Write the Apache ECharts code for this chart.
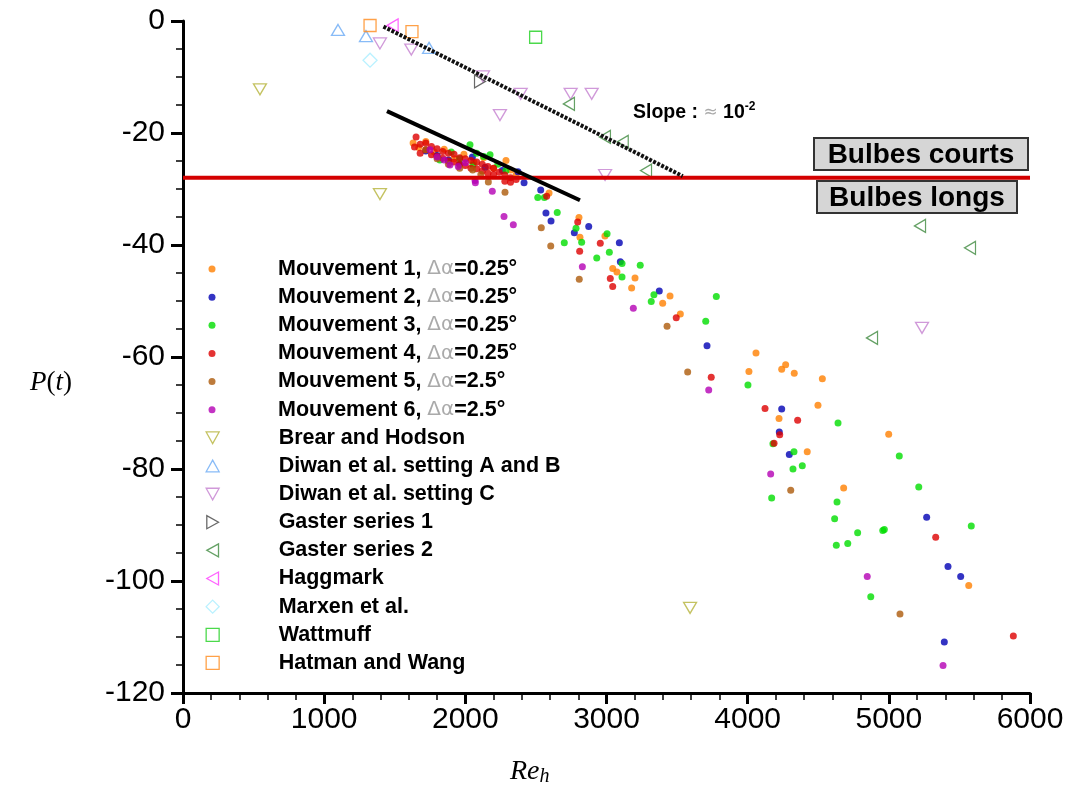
<!DOCTYPE html>
<html>
<head>
<meta charset="utf-8">
<script src="https://cdn.jsdelivr.net/npm/echarts@6/dist/echarts.min.js"></script>
<style>
html, body { margin: 0; padding: 0; background: #fff; }
#chart { width: 1069px; height: 798px; }
</style>
</head>
<body>
<div id="chart"></div>
<script>
// ---- data (Re_h, P(t)) ----
var mouv1 = [[1630,-21.8],[1670,-22.6],[1720,-21.5],[1780,-23.4],[1850,-22.9],[1920,-24.6],[1990,-23.8],[2060,-25.2],[2130,-24.4],[2200,-26.3],[2288,-24.9],[2320,-26.6],[2360,-27.4],
  [2593,-30.7],[2805,-35.1],[2812,-38.6],[2989,-38.4],[3044,-44.2],[3074,-44.8],[3202,-45.9],[3178,-47.7],[3450,-49.1],[3398,-50.4],[3523,-52.3],
  [4059,-59.3],[4009,-62.6],[4269,-61.4],[4241,-62.2],[4330,-62.9],[4529,-63.9],[4498,-68.6],[4222,-71.0],[4422,-76.9],[4999,-73.8],[4680,-83.4],[5566,-100.8]];
var mouv2 = [[1720,-23.2],[1800,-24.0],[1880,-24.8],[1960,-25.6],[2050,-24.3],[2140,-26.1],[2262,-26.7],[2373,-26.9],
  [2416,-28.9],[2534,-30.2],[2571,-34.3],[2607,-35.7],[2772,-37.8],[2874,-36.7],[3091,-39.6],[3098,-43.0],[3374,-48.2],[3712,-58.0],
  [4241,-69.3],[4224,-73.4],[4295,-77.4],[5268,-88.6],[5419,-97.4],[5509,-99.2],[5393,-110.9]];
var mouv3 = [[1820,-24.8],[1900,-23.4],[1960,-24.6],[2033,-22.1],[2080,-23.6],[2130,-24.2],[2175,-23.9],[2054,-25.7],[2230,-25.6],[2288,-26.7],
  [2513,-31.5],[2560,-31.5],[2651,-34.2],[2701,-39.6],[2784,-37.0],[2824,-39.5],[2931,-42.3],[3004,-38.0],[3020,-41.3],[3110,-43.3],[3110,-45.7],
  [3239,-43.6],[3336,-48.9],[3317,-50.1],[3778,-49.2],[3703,-53.6],[4002,-65.0],[4179,-75.5],[4328,-76.9],[4387,-79.4],[4321,-80.0],[4640,-71.8],
  [5074,-77.7],[5212,-83.2],[4170,-85.2],[4633,-85.9],[4616,-88.9],[5584,-90.2],[4779,-91.4],[4957,-91.0],[4968,-90.8],[4628,-93.6],[4709,-93.3],[4872,-102.8]];
var mouv4 = [[1651,-20.7],[1640,-22.5],[1680,-22.0],[1680,-23.6],[1720,-21.8],[1720,-23.0],[1760,-22.4],[1760,-23.9],[1800,-22.8],[1800,-24.2],
  [1840,-23.3],[1840,-24.5],[1880,-23.6],[1880,-25.0],[1920,-23.8],[1920,-25.2],[1960,-24.4],[1960,-25.6],[2000,-24.6],[2000,-25.8],
  [2040,-24.9],[2040,-26.3],[2080,-25.2],[2080,-26.4],[2120,-25.6],[2120,-26.8],[2160,-26.0],[2160,-27.2],[2200,-26.3],[2200,-27.4],
  [2240,-27.0],[2280,-27.5],[2280,-28.6],[2320,-28.0],[2320,-28.8],[2360,-28.3],
  [2576,-31.3],[2796,-35.9],[2810,-41.1],[2956,-39.7],[3027,-46.0],[3044,-47.4],[3494,-53.0],[3742,-63.6],
  [4123,-69.2],[4354,-71.3],[4227,-73.9],[4187,-75.4],[5332,-92.2],[5882,-109.8]];
var mouv5 = [[1720,-23.0],[1800,-24.6],[1880,-25.6],[1960,-26.3],[2052,-26.6],[2110,-27.4],
  [2163,-28.75],[2281,-30.6],[2538,-36.9],[2605,-40.2],[2807,-46.1],[3429,-54.5],[3575,-62.7],[4305,-83.8],[5079,-105.9]];
var mouv6 = [[1750,-23.0],[1800,-24.3],[1850,-24.8],[1891,-25.7],[1950,-26.0],[2000,-25.3],[2069,-28.5],
  [2071,-28.9],[2191,-30.4],[2274,-34.9],[2340,-36.4],[2829,-43.9],[3190,-51.3],[3724,-65.9],[4163,-80.9],[4847,-99.2],[5384,-115.1]];

var brear = [[545,-12.2],[1395,-30.9],[3592,-104.8]];
var diwanAB = [[1098,-1.6],[1296,-2.7],[1743,-4.8]];
var diwanC = [[1395,-4.0],[1617,-5.1],[2125,-9.9],[2392,-13.0],[2746,-13.0],[2895,-13.0],[2245,-16.8],[2990,-27.5],[5235,-54.8]];
var gaster1 = [[2104,-10.8]];
var gaster2 = [[2734,-14.8],[2989,-20.7],[3115,-21.6],[3280,-26.7],[5221,-36.6],[5575,-40.5],[4881,-56.6]];
var haggmark = [[1485,-0.8]];
var marxen = [[1325,-7.0]];
var wattmuff = [[2498,-2.9]];
var hatman = [[1325,-0.8],[1622,-1.9]];

var slopeLine = [[1420,-1.0],[3540,-27.7]];
var fitLine = [[1445,-16.1],[2812,-32.0]];
var boundary = [[0,-28],[6000,-28]];

var xTicks = [0, 6000, 1000];
var yTicks = [-120, 0, 20];

// legend icon shapes (the legend ignores symbolRotate)
var triUp = 'path://M5,0 L10,9 L0,9 Z';
var triDown = 'path://M0,0 L10,0 L5,9 Z';
var triLeft = 'path://M9,0 L9,10 L0,5 Z';
var triRight = 'path://M0,0 L0,10 L9,5 Z';

var dotDefs = [
  ['Mouvement 1, Δα=0.25°', mouv1, '#ff8000'],
  ['Mouvement 2, Δα=0.25°', mouv2, '#0000b4'],
  ['Mouvement 3, Δα=0.25°', mouv3, '#00dd00'],
  ['Mouvement 4, Δα=0.25°', mouv4, '#dd0000'],
  ['Mouvement 5, Δα=2.5°', mouv5, '#ad5a0a'],
  ['Mouvement 6, Δα=2.5°', mouv6, '#b400b4']
];
var openDefs = [
  ['Brear and Hodson', brear, '#b5b33a', 'triangle', 180, [13, 11], triDown],
  ['Diwan et al. setting A and B', diwanAB, '#6aaaf5', 'triangle', 0, [13, 11], triUp],
  ['Diwan et al. setting C', diwanC, '#c47fcf', 'triangle', 180, [13, 11], triDown],
  ['Gaster series 1', gaster1, '#444444', 'triangle', -90, [13, 11], triRight],
  ['Gaster series 2', gaster2, '#3f8a3f', 'triangle', 90, [13, 11], triLeft],
  ['Haggmark', haggmark, '#ff3cff', 'triangle', 90, [13, 11], triLeft],
  ['Marxen et al.', marxen, '#a8eeff', 'diamond', 0, [14, 14], 'diamond'],
  ['Wattmuff', wattmuff, '#1ed01e', 'rect', 0, [12, 12], 'rect'],
  ['Hatman and Wang', hatman, '#ff8a1a', 'rect', 0, [12, 12], 'rect']
];

var series = [];
dotDefs.forEach(function (d) {
  series.push({
    name: d[0], type: 'scatter', data: d[1], symbol: 'circle', symbolSize: 7,
    itemStyle: { color: d[2] }, z: 3
  });
});
openDefs.forEach(function (d) {
  series.push({
    name: d[0], type: 'scatter', data: d[1], symbol: d[3], symbolRotate: d[4], symbolSize: d[5],
    itemStyle: { color: 'rgba(0,0,0,0)', borderColor: d[2], borderWidth: 1.3 }, z: 3
  });
});
series.push({
  type: 'line', data: boundary, symbol: 'none', silent: true, z: 6,
  lineStyle: { color: '#d40000', width: 4 }
});
series.push({
  type: 'line', data: slopeLine, symbol: 'none', silent: true, z: 6,
  lineStyle: { color: '#111', width: 4, type: [3, 1.5] }
});
series.push({
  type: 'line', data: fitLine, symbol: 'none', silent: true, z: 6,
  lineStyle: { color: '#000', width: 4 }
});

function legendText(padLeft) {
  return {
    fontFamily: 'Liberation Sans', fontWeight: 'bold', fontSize: 21.5, color: '#000', lineHeight: 22,
    padding: [0, 0, 0, padLeft],
    rich: { g: { fontFamily: 'DejaVu Sans', fontWeight: 'normal', fontSize: 20, color: '#aaa', lineHeight: 22 } }
  };
}
function fmt(n) { return n.replace('Δα', '{g|Δα}'); }
function plainNum(v) { return String(v); }

var axisFont = { fontFamily: 'Liberation Sans', fontSize: 30, color: '#000' };

var option = {
  animation: false,
  backgroundColor: '#fff',
  grid: { left: 183, right: 39, top: 21, bottom: 105 },
  xAxis: {
    type: 'value', min: xTicks[0], max: xTicks[1], interval: xTicks[2],
    axisLine: { onZero: false, lineStyle: { color: '#000', width: 3 } },
    axisTick: { length: 11, lineStyle: { color: '#000', width: 3 } },
    minorTick: { show: true, splitNumber: 5, length: 7, lineStyle: { color: '#000', width: 1.5 } },
    splitLine: { show: false },
    axisLabel: Object.assign({ margin: 12, formatter: plainNum }, axisFont)
  },
  yAxis: {
    type: 'value', min: yTicks[0], max: yTicks[1], interval: yTicks[2],
    axisLine: { onZero: false, lineStyle: { color: '#000', width: 3 } },
    axisTick: { length: 12, lineStyle: { color: '#000', width: 3 } },
    minorTick: { show: true, splitNumber: 4, length: 7, lineStyle: { color: '#000', width: 1.5 } },
    splitLine: { show: false },
    axisLabel: Object.assign({ margin: 18, formatter: plainNum }, axisFont)
  },
  legend: [{
    data: dotDefs.map(function (d) { return { name: d[0], icon: 'circle' }; }),
    orient: 'vertical', left: 208.5, top: 258, padding: 0,
    itemWidth: 7, itemHeight: 7, itemGap: 6.14, selectedMode: false,
    itemStyle: { borderWidth: 0 },
    formatter: fmt, textStyle: legendText(57.5)
  }, {
    data: openDefs.map(function (d) { return { name: d[0], icon: d[6] }; }),
    orient: 'vertical', left: 205.5, top: 426.8, padding: 0,
    itemWidth: 13, itemHeight: 13, itemGap: 6.14, selectedMode: false,
    itemStyle: { borderWidth: 1.3 },
    textStyle: legendText(54.5)
  }],
  graphic: [
    {
      type: 'text', x: 633, y: 113, z: 10,
      style: {
        text: '{b|Slope : }{g|≈}{b| 10}{s|-2}', verticalAlign: 'middle',
        rich: {
          b: { fontFamily: 'Liberation Sans', fontWeight: 'bold', fontSize: 19.5, fill: '#000' },
          g: { fontFamily: 'DejaVu Sans', fontSize: 17, fill: '#aaa' },
          s: { fontFamily: 'Liberation Sans', fontWeight: 'bold', fontSize: 12, fill: '#000', padding: [0, 0, 12, 0] }
        }
      }
    },
    { type: 'rect', z: 10, shape: { x: 814, y: 138, width: 214, height: 32 },
      style: { fill: '#d6d6d6', stroke: '#333', lineWidth: 2 } },
    { type: 'text', z: 11, x: 921, y: 155,
      style: { text: 'Bulbes courts', fontFamily: 'Liberation Sans', fontWeight: 'bold', fontSize: 28, fill: '#000', align: 'center', verticalAlign: 'middle' } },
    { type: 'rect', z: 10, shape: { x: 817, y: 181, width: 200, height: 32 },
      style: { fill: '#d6d6d6', stroke: '#333', lineWidth: 2 } },
    { type: 'text', z: 11, x: 917, y: 198,
      style: { text: 'Bulbes longs', fontFamily: 'Liberation Sans', fontWeight: 'bold', fontSize: 28, fill: '#000', align: 'center', verticalAlign: 'middle' } },
    {
      type: 'text', x: 30, y: 383,
      style: {
        text: '{i|P}{r|(}{i|t}{r|)}', verticalAlign: 'middle',
        rich: {
          i: { fontFamily: 'Liberation Serif', fontStyle: 'italic', fontSize: 27, fill: '#000' },
          r: { fontFamily: 'Liberation Serif', fontSize: 27, fill: '#000' }
        }
      }
    },
    {
      type: 'text', x: 510, y: 772,
      style: {
        text: '{i|Re}{s|h}', verticalAlign: 'middle',
        rich: {
          i: { fontFamily: 'Liberation Serif', fontStyle: 'italic', fontSize: 28, fill: '#000' },
          s: { fontFamily: 'Liberation Serif', fontStyle: 'italic', fontSize: 20, fill: '#000', padding: [10, 0, 0, 0] }
        }
      }
    }
  ],
  series: series
};

var chart = echarts.init(document.getElementById('chart'));
chart.setOption(option);
</script>
</body>
</html>
